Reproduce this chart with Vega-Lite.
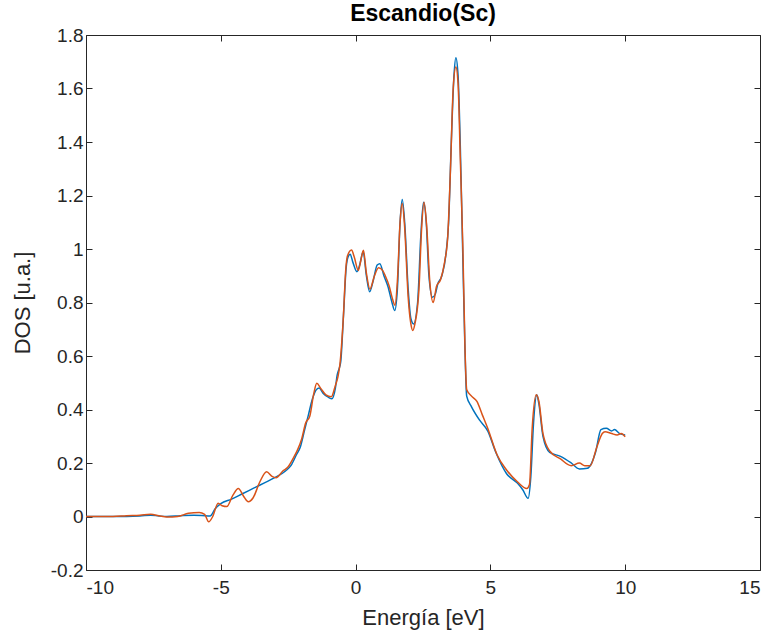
{
  "$schema": "https://vega.github.io/schema/vega-lite/v6.json",
  "width": 674,
  "height": 535,
  "autosize": "none",
  "padding": {"left": 86, "top": 35, "right": 17, "bottom": 69},
  "background": "white",
  "title": {"text": "Escandio(Sc)", "fontSize": 23, "fontWeight": "bold", "font": "Liberation Sans", "color": "#000000", "anchor": "middle", "baseline": "bottom", "offset": -23},
  "config": {
    "view": {"stroke": "#262626", "strokeWidth": 1},
    "axis": {"grid": false, "domain": false, "ticks": true, "offset": -6, "tickSize": 6, "tickWidth": 1, "tickColor": "#262626", "labelColor": "#262626", "titleColor": "#262626", "labelFont": "Liberation Sans", "titleFont": "Liberation Sans", "labelFontSize": 19, "titleFontSize": 22, "titleFontWeight": "normal"}
  },
  "data": {"values": [
    {"E": -10, "DOS": 0.0, "s": "a"}, {"E": -9, "DOS": 0.0, "s": "a"}, {"E": -8, "DOS": 0.002, "s": "a"}, {"E": -7.6, "DOS": 0.005, "s": "a"}, {"E": -7.3, "DOS": 0.002, "s": "a"}, {"E": -7, "DOS": 0.0, "s": "a"}, {"E": -6.5, "DOS": 0.003, "s": "a"}, {"E": -6, "DOS": 0.005, "s": "a"}, {"E": -5.7, "DOS": 0.004, "s": "a"}, {"E": -5.4, "DOS": 0.002, "s": "a"}, {"E": -5.2, "DOS": 0.03, "s": "a"}, {"E": -5.0, "DOS": 0.048, "s": "a"}, {"E": -4.6, "DOS": 0.065, "s": "a"}, {"E": -4.2, "DOS": 0.085, "s": "a"}, {"E": -3.8, "DOS": 0.105, "s": "a"}, {"E": -3.4, "DOS": 0.125, "s": "a"}, {"E": -3.0, "DOS": 0.145, "s": "a"}, {"E": -2.6, "DOS": 0.17, "s": "a"}, {"E": -2.4, "DOS": 0.19, "s": "a"}, {"E": -2.2, "DOS": 0.23, "s": "a"}, {"E": -2.05, "DOS": 0.26, "s": "a"}, {"E": -1.9, "DOS": 0.32, "s": "a"}, {"E": -1.75, "DOS": 0.38, "s": "a"}, {"E": -1.6, "DOS": 0.44, "s": "a"}, {"E": -1.45, "DOS": 0.475, "s": "a"}, {"E": -1.35, "DOS": 0.48, "s": "a"}, {"E": -1.2, "DOS": 0.46, "s": "a"}, {"E": -1.0, "DOS": 0.445, "s": "a"}, {"E": -0.88, "DOS": 0.44, "s": "a"}, {"E": -0.75, "DOS": 0.48, "s": "a"}, {"E": -0.68, "DOS": 0.53, "s": "a"}, {"E": -0.62, "DOS": 0.55, "s": "a"}, {"E": -0.55, "DOS": 0.58, "s": "a"}, {"E": -0.45, "DOS": 0.75, "s": "a"}, {"E": -0.35, "DOS": 0.93, "s": "a"}, {"E": -0.28, "DOS": 0.97, "s": "a"}, {"E": -0.2, "DOS": 0.98, "s": "a"}, {"E": -0.1, "DOS": 0.95, "s": "a"}, {"E": 0.05, "DOS": 0.915, "s": "a"}, {"E": 0.15, "DOS": 0.94, "s": "a"}, {"E": 0.28, "DOS": 0.99, "s": "a"}, {"E": 0.4, "DOS": 0.9, "s": "a"}, {"E": 0.52, "DOS": 0.84, "s": "a"}, {"E": 0.65, "DOS": 0.88, "s": "a"}, {"E": 0.8, "DOS": 0.94, "s": "a"}, {"E": 0.9, "DOS": 0.945, "s": "a"}, {"E": 1.05, "DOS": 0.9, "s": "a"}, {"E": 1.2, "DOS": 0.86, "s": "a"}, {"E": 1.35, "DOS": 0.8, "s": "a"}, {"E": 1.45, "DOS": 0.77, "s": "a"}, {"E": 1.55, "DOS": 0.85, "s": "a"}, {"E": 1.65, "DOS": 1.1, "s": "a"}, {"E": 1.73, "DOS": 1.185, "s": "a"}, {"E": 1.82, "DOS": 1.1, "s": "a"}, {"E": 1.95, "DOS": 0.85, "s": "a"}, {"E": 2.05, "DOS": 0.74, "s": "a"}, {"E": 2.15, "DOS": 0.72, "s": "a"}, {"E": 2.3, "DOS": 0.8, "s": "a"}, {"E": 2.42, "DOS": 1.05, "s": "a"}, {"E": 2.52, "DOS": 1.175, "s": "a"}, {"E": 2.62, "DOS": 1.1, "s": "a"}, {"E": 2.72, "DOS": 0.9, "s": "a"}, {"E": 2.85, "DOS": 0.82, "s": "a"}, {"E": 2.95, "DOS": 0.83, "s": "a"}, {"E": 3.05, "DOS": 0.87, "s": "a"}, {"E": 3.2, "DOS": 0.9, "s": "a"}, {"E": 3.35, "DOS": 0.98, "s": "a"}, {"E": 3.45, "DOS": 1.1, "s": "a"}, {"E": 3.55, "DOS": 1.4, "s": "a"}, {"E": 3.65, "DOS": 1.65, "s": "a"}, {"E": 3.72, "DOS": 1.715, "s": "a"}, {"E": 3.8, "DOS": 1.65, "s": "a"}, {"E": 3.88, "DOS": 1.4, "s": "a"}, {"E": 3.97, "DOS": 1.0, "s": "a"}, {"E": 4.05, "DOS": 0.65, "s": "a"}, {"E": 4.12, "DOS": 0.45, "s": "a"}, {"E": 4.3, "DOS": 0.41, "s": "a"}, {"E": 4.6, "DOS": 0.36, "s": "a"}, {"E": 4.9, "DOS": 0.32, "s": "a"}, {"E": 5.2, "DOS": 0.24, "s": "a"}, {"E": 5.6, "DOS": 0.16, "s": "a"}, {"E": 6.0, "DOS": 0.125, "s": "a"}, {"E": 6.2, "DOS": 0.1, "s": "a"}, {"E": 6.4, "DOS": 0.068, "s": "a"}, {"E": 6.5, "DOS": 0.15, "s": "a"}, {"E": 6.6, "DOS": 0.35, "s": "a"}, {"E": 6.72, "DOS": 0.455, "s": "a"}, {"E": 6.8, "DOS": 0.42, "s": "a"}, {"E": 6.95, "DOS": 0.3, "s": "a"}, {"E": 7.2, "DOS": 0.24, "s": "a"}, {"E": 7.6, "DOS": 0.225, "s": "a"}, {"E": 8.0, "DOS": 0.2, "s": "a"}, {"E": 8.3, "DOS": 0.178, "s": "a"}, {"E": 8.6, "DOS": 0.18, "s": "a"}, {"E": 8.9, "DOS": 0.24, "s": "a"}, {"E": 9.1, "DOS": 0.325, "s": "a"}, {"E": 9.3, "DOS": 0.33, "s": "a"}, {"E": 9.5, "DOS": 0.32, "s": "a"}, {"E": 9.6, "DOS": 0.325, "s": "a"}, {"E": 9.8, "DOS": 0.31, "s": "a"}, {"E": 10.0, "DOS": 0.305, "s": "a"},
    {"E": -10, "DOS": 0.0, "s": "b"}, {"E": -9, "DOS": 0.0, "s": "b"}, {"E": -8.5, "DOS": 0.003, "s": "b"}, {"E": -8, "DOS": 0.005, "s": "b"}, {"E": -7.6, "DOS": 0.008, "s": "b"}, {"E": -7.3, "DOS": 0.003, "s": "b"}, {"E": -7, "DOS": -0.002, "s": "b"}, {"E": -6.6, "DOS": 0.0, "s": "b"}, {"E": -6.2, "DOS": 0.012, "s": "b"}, {"E": -5.8, "DOS": 0.015, "s": "b"}, {"E": -5.6, "DOS": 0.008, "s": "b"}, {"E": -5.45, "DOS": -0.02, "s": "b"}, {"E": -5.3, "DOS": 0.0, "s": "b"}, {"E": -5.1, "DOS": 0.05, "s": "b"}, {"E": -4.95, "DOS": 0.04, "s": "b"}, {"E": -4.78, "DOS": 0.037, "s": "b"}, {"E": -4.55, "DOS": 0.08, "s": "b"}, {"E": -4.35, "DOS": 0.105, "s": "b"}, {"E": -4.15, "DOS": 0.075, "s": "b"}, {"E": -3.98, "DOS": 0.055, "s": "b"}, {"E": -3.8, "DOS": 0.07, "s": "b"}, {"E": -3.55, "DOS": 0.13, "s": "b"}, {"E": -3.3, "DOS": 0.167, "s": "b"}, {"E": -3.1, "DOS": 0.15, "s": "b"}, {"E": -2.95, "DOS": 0.145, "s": "b"}, {"E": -2.7, "DOS": 0.17, "s": "b"}, {"E": -2.5, "DOS": 0.186, "s": "b"}, {"E": -2.3, "DOS": 0.22, "s": "b"}, {"E": -2.15, "DOS": 0.25, "s": "b"}, {"E": -2.0, "DOS": 0.29, "s": "b"}, {"E": -1.85, "DOS": 0.35, "s": "b"}, {"E": -1.7, "DOS": 0.375, "s": "b"}, {"E": -1.55, "DOS": 0.46, "s": "b"}, {"E": -1.44, "DOS": 0.498, "s": "b"}, {"E": -1.3, "DOS": 0.48, "s": "b"}, {"E": -1.1, "DOS": 0.455, "s": "b"}, {"E": -0.9, "DOS": 0.448, "s": "b"}, {"E": -0.75, "DOS": 0.49, "s": "b"}, {"E": -0.66, "DOS": 0.52, "s": "b"}, {"E": -0.58, "DOS": 0.57, "s": "b"}, {"E": -0.46, "DOS": 0.735, "s": "b"}, {"E": -0.36, "DOS": 0.93, "s": "b"}, {"E": -0.3, "DOS": 0.975, "s": "b"}, {"E": -0.15, "DOS": 0.996, "s": "b"}, {"E": -0.05, "DOS": 0.97, "s": "b"}, {"E": 0.1, "DOS": 0.92, "s": "b"}, {"E": 0.2, "DOS": 0.96, "s": "b"}, {"E": 0.29, "DOS": 0.995, "s": "b"}, {"E": 0.4, "DOS": 0.91, "s": "b"}, {"E": 0.53, "DOS": 0.85, "s": "b"}, {"E": 0.7, "DOS": 0.9, "s": "b"}, {"E": 0.85, "DOS": 0.93, "s": "b"}, {"E": 1.0, "DOS": 0.92, "s": "b"}, {"E": 1.1, "DOS": 0.9, "s": "b"}, {"E": 1.25, "DOS": 0.86, "s": "b"}, {"E": 1.35, "DOS": 0.82, "s": "b"}, {"E": 1.46, "DOS": 0.79, "s": "b"}, {"E": 1.55, "DOS": 0.88, "s": "b"}, {"E": 1.65, "DOS": 1.1, "s": "b"}, {"E": 1.73, "DOS": 1.17, "s": "b"}, {"E": 1.82, "DOS": 1.08, "s": "b"}, {"E": 1.95, "DOS": 0.82, "s": "b"}, {"E": 2.05, "DOS": 0.72, "s": "b"}, {"E": 2.12, "DOS": 0.695, "s": "b"}, {"E": 2.2, "DOS": 0.72, "s": "b"}, {"E": 2.35, "DOS": 0.85, "s": "b"}, {"E": 2.45, "DOS": 1.08, "s": "b"}, {"E": 2.54, "DOS": 1.175, "s": "b"}, {"E": 2.64, "DOS": 1.08, "s": "b"}, {"E": 2.75, "DOS": 0.88, "s": "b"}, {"E": 2.88, "DOS": 0.8, "s": "b"}, {"E": 3.0, "DOS": 0.86, "s": "b"}, {"E": 3.15, "DOS": 0.885, "s": "b"}, {"E": 3.3, "DOS": 0.95, "s": "b"}, {"E": 3.42, "DOS": 1.05, "s": "b"}, {"E": 3.52, "DOS": 1.3, "s": "b"}, {"E": 3.62, "DOS": 1.6, "s": "b"}, {"E": 3.72, "DOS": 1.68, "s": "b"}, {"E": 3.8, "DOS": 1.62, "s": "b"}, {"E": 3.88, "DOS": 1.35, "s": "b"}, {"E": 3.98, "DOS": 1.0, "s": "b"}, {"E": 4.06, "DOS": 0.62, "s": "b"}, {"E": 4.12, "DOS": 0.475, "s": "b"}, {"E": 4.3, "DOS": 0.45, "s": "b"}, {"E": 4.5, "DOS": 0.43, "s": "b"}, {"E": 4.7, "DOS": 0.38, "s": "b"}, {"E": 4.9, "DOS": 0.33, "s": "b"}, {"E": 5.25, "DOS": 0.23, "s": "b"}, {"E": 5.6, "DOS": 0.174, "s": "b"}, {"E": 6.0, "DOS": 0.13, "s": "b"}, {"E": 6.35, "DOS": 0.105, "s": "b"}, {"E": 6.45, "DOS": 0.12, "s": "b"}, {"E": 6.55, "DOS": 0.33, "s": "b"}, {"E": 6.7, "DOS": 0.455, "s": "b"}, {"E": 6.8, "DOS": 0.43, "s": "b"}, {"E": 6.95, "DOS": 0.31, "s": "b"}, {"E": 7.2, "DOS": 0.245, "s": "b"}, {"E": 7.6, "DOS": 0.215, "s": "b"}, {"E": 8.0, "DOS": 0.19, "s": "b"}, {"E": 8.3, "DOS": 0.2, "s": "b"}, {"E": 8.5, "DOS": 0.19, "s": "b"}, {"E": 8.7, "DOS": 0.19, "s": "b"}, {"E": 8.95, "DOS": 0.26, "s": "b"}, {"E": 9.15, "DOS": 0.31, "s": "b"}, {"E": 9.25, "DOS": 0.317, "s": "b"}, {"E": 9.5, "DOS": 0.31, "s": "b"}, {"E": 9.7, "DOS": 0.305, "s": "b"}, {"E": 9.85, "DOS": 0.31, "s": "b"}, {"E": 10.0, "DOS": 0.298, "s": "b"}
  ]},
  "layer": [
    {
      "mark": {"type": "line", "strokeWidth": 1.5, "interpolate": "monotone"},
      "encoding": {
        "x": {"field": "E", "type": "quantitative", "scale": {"domain": [-10, 15], "nice": false, "zero": false}, "axis": {"orient": "bottom", "title": "Energía [eV]", "values": [-10, -5, 0, 5, 10, 15], "labelExpr": "datum.value + ''", "labelPadding": 8, "titlePadding": 10}},
        "y": {"field": "DOS", "type": "quantitative", "scale": {"domain": [-0.2, 1.8], "nice": false, "zero": false}, "axis": {"orient": "left", "title": "DOS [u.a.]", "values": [-0.2, 0, 0.2, 0.4, 0.6, 0.8, 1, 1.2, 1.4, 1.6, 1.8], "labelExpr": "datum.value + ''", "labelPadding": 3, "titlePadding": 16}},
        "color": {"field": "s", "type": "nominal", "scale": {"domain": ["a", "b"], "range": ["#0072BD", "#D95319"]}, "legend": null}
      }
    },
    {
      "mark": {"type": "line", "strokeOpacity": 0},
      "encoding": {
        "x": {"field": "E", "type": "quantitative", "axis": {"orient": "top", "title": null, "labels": false, "values": [-10, -5, 0, 5, 10, 15]}},
        "y": {"field": "DOS", "type": "quantitative", "axis": {"orient": "right", "title": null, "labels": false, "values": [-0.2, 0, 0.2, 0.4, 0.6, 0.8, 1, 1.2, 1.4, 1.6, 1.8]}},
        "detail": {"field": "s", "type": "nominal"}
      }
    }
  ],
  "resolve": {"axis": {"x": "independent", "y": "independent"}}
}
